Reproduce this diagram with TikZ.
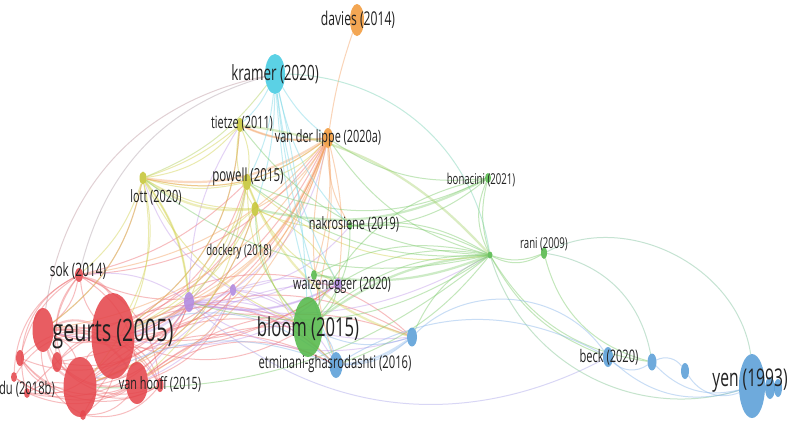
\documentclass[tikz,border=0pt]{standalone}
\usepackage{fontspec}
\setmainfont{Open Sans}[FakeStretch=0.64]
\usetikzlibrary{shapes.geometric}
\definecolor{cRed}{HTML}{E5474D}
\definecolor{cGreen}{HTML}{55B94B}
\definecolor{cBlue}{HTML}{5A9FD8}
\definecolor{cYellow}{HTML}{C6C636}
\definecolor{cPurple}{HTML}{B088E0}
\definecolor{cCyan}{HTML}{45CBE2}
\definecolor{cOrange}{HTML}{F29A3C}
\definecolor{eRed}{HTML}{EE6E72}
\definecolor{eGreen}{HTML}{7CCB6A}
\definecolor{eBlue}{HTML}{86B4EA}
\definecolor{eYellow}{HTML}{D2D24E}
\definecolor{ePurple}{HTML}{C29CEB}
\definecolor{eCyan}{HTML}{77D6E6}
\definecolor{eOrange}{HTML}{F4A060}
\definecolor{txt}{HTML}{222222}
\pgfdeclarelayer{bg}
\pgfdeclarelayer{edges}
\pgfsetlayers{bg,edges,main}
\begin{document}
\begin{tikzpicture}[x=1pt,y=-1pt,
  dot/.style n args={3}{ellipse,inner sep=0pt,outer sep=0pt,draw=none,fill=#1,fill opacity=0.88,minimum width=#2pt,minimum height=#3pt},
  lab/.style={text=txt,inner sep=0pt,font=\fontsize{#1}{#1}\selectfont},
  e/.style={draw=#1,line width=1pt,opacity=0.45},
  ew/.style={draw=#1,line width=2.2pt,opacity=0.38}]
\begin{pgfonlayer}{bg}
\fill[white] (0,0) rectangle (789,429);
\end{pgfonlayer}
\useasboundingbox (0,0) rectangle (789,429);
% ---------- nodes ----------
\node[dot={cOrange}{14}{32}] (dav) at (357,20) {};
\node[dot={cCyan}{20}{40}] (kra) at (275,74) {};
\node[dot={cYellow}{7}{14}] (tie) at (240,125) {};
\node[dot={cOrange}{10}{20}] (vdl) at (328,138) {};
\node[dot={cYellow}{8}{16}] (pow) at (247,182) {};
\node[dot={cYellow}{7}{14}] (pow2) at (255,209) {};
\node[dot={cYellow}{7}{13}] (lot) at (143,178) {};
\node[dot={cPurple}{10}{20}] (pur1) at (189,302) {};
\node[dot={cPurple}{6}{12}] (pur2) at (233,290) {};
\node[dot={cRed}{8}{14}] (sok) at (79,275) {};
\node[dot={cRed}{21}{44}] (rA) at (43,330) {};
\node[dot={cRed}{43}{86}] (geu) at (113,336) {};
\node[dot={cRed}{33}{60}] (rC) at (80,387) {};
\node[dot={cRed}{22}{42}] (rD) at (137,383) {};
\node[dot={cRed}{10}{20}] (rE) at (57,362) {};
\node[dot={cRed}{8}{16}] (rF) at (20,358) {};
\node[dot={cRed}{6}{10}] (rG) at (14,377) {};
\node[dot={cRed}{6}{10}] (du) at (27,393) {};
\node[dot={cRed}{6}{10}] (rI) at (83,415) {};
\node[dot={cRed}{7}{14}] (vho) at (160,385) {};
\node[dot={cGreen}{4}{8}] (nak) at (350,226) {};
\node[dot={cPurple}{8}{12}] (wai) at (338,284) {};
\node[dot={cGreen}{6}{10}] (gsm) at (314,275) {};
\node[dot={cGreen}{29}{60}] (blo) at (308,327) {};
\node[dot={cBlue}{13}{26}] (etm) at (336,365) {};
\node[dot={cBlue}{10}{19}] (bfz) at (412,337) {};
\node[dot={cGreen}{6}{10}] (bon) at (488,178) {};
\node[dot={cGreen}{5}{7}] (hub) at (490,255) {};
\node[dot={cGreen}{6}{12}] (ran) at (544,253) {};
\node[dot={cBlue}{10}{20}] (bec) at (608,357) {};
\node[dot={cBlue}{9}{17}] (bl2) at (652,362) {};
\node[dot={cBlue}{8}{16}] (bl3) at (685,371) {};
\node[dot={cBlue}{26}{64}] (yen) at (752,386) {};
\node[dot={cBlue}{10}{22}] (ye2) at (770,388) {};
\node[dot={cBlue}{8}{18}] (ye3) at (778,388) {};
% ---------- edges ----------
\begin{pgfonlayer}{edges}
\foreach \a/\b/\c in {geu/rA/20,rA/rC/25,rA/sok/-20,geu/sok/15,geu/rC/-20,geu/rD/25,rC/rD/-30,rE/geu/20,rF/geu/25,rF/rD/-35,rG/rD/-30,du/rD/-25,rI/geu/-20,vho/rA/-30,sok/rC/-35,rF/sok/20,du/geu/-30,rI/rA/30,rE/rD/-25,geu/vho/20,rC/vho/-25,rG/geu/30,sok/rD/25,rA/rD/-40,rE/sok/20,
  rF/rC/-30,rG/rC/-25,du/rC/20,rI/rD/-25,rI/vho/-30,rG/sok/30,du/sok/40,rF/vho/-40,rE/vho/-35,rA/vho/35,sok/vho/30,
  geu/pur1/-15,geu/pur2/-20,geu/blo/-25,geu/etm/35,rC/etm/30,rD/bfz/30,geu/wai/-20,sok/vdl/-25,geu/vdl/-20,rA/lot/-20,geu/pow/-20,rC/blo/25,sok/pow/-15,geu/tie/-25,du/blo/35,rA/pur1/-25,rD/blo/20,rC/pow2/-25,rA/wai/-25,rE/vdl/-30,
  geu/bfz/40,rC/bfz/38,rA/pur2/-30,rC/pur1/-30,rD/pur2/-25,rE/pur1/-35,rF/pur1/-40,rD/etm/30,sok/pur2/-20,rA/pow2/-30,du/pur1/-40,rI/blo/40}
  \draw[e=eRed] (\a) to[bend left=\c] (\b);
\foreach \a/\b/\c in {geu/rA/-25,geu/rC/25,rA/rC/-20,geu/rD/-20,rA/rD/30,geu/sok/-25}
  \draw[ew=eRed] (\a) to[bend left=\c] (\b);
\draw[e=eRed!60!eCyan] (rA) to[bend left=35] (kra);
\draw[e=eRed!50!eCyan] (sok) to[bend left=30] (kra);
\foreach \a/\b/\c in {pur1/pow/-15,pur1/wai/-20,pur1/blo/15,pur1/etm/20,pur1/bfz/-25,pur2/wai/15,pur2/vdl/-20,pur1/rA/25,pur1/rC/20,pur2/nak/-20,pur1/hub/-20,pur2/bfz/-20,wai/rD/-25,pur2/rD/20,pur1/tie/15,pur2/lot/20,pur1/sok/-20,wai/geu/25,pur2/blo/20,pur1/gsm/-15,pur2/etm/25}
  \draw[e=ePurple] (\a) to[bend left=\c] (\b);
\draw[ew=ePurple] (pur1) to[bend left=-10] (pur2);
\draw[ew=ePurple] (pur1) to[bend left=20] (geu);
\draw[ew=ePurple] (pur1) to[bend left=-20] (wai);
\draw[e=ePurple!60!eBlue] (pur1) to[bend right=35] (bec);
\foreach \a/\b/\c in {lot/pow/-15,lot/pow2/-15,lot/pur1/15,lot/geu/20,lot/blo/-20,lot/vdl/-25,pow/pur1/15,pow/blo/-20,pow/wai/-20,pow2/rC/25,pow2/etm/-20,tie/pow/15,tie/pow2/-20,tie/geu/25,lot/rA/20,pow/hub/-25,pow2/nak/-15,lot/tie/-20,pow/vdl/-20,pow2/pur1/-15,pow/rD/20,lot/rC/25,pow2/wai/20,tie/lot/10,lot/sok/15,pow/geu/25,pow2/geu/20}
  \draw[e=eYellow] (\a) to[bend left=\c] (\b);
\draw[e=eYellow!60!eGreen] (lot) to[bend left=-15] (kra);
\draw[ew=eYellow] (lot) to[bend left=-20] (pow2);
\draw[ew=eYellow] (pow) to[bend left=-25] (bfz);
\draw[ew=eYellow] (lot) to[bend left=15] (pur1);
\foreach \a/\b/\c in {vdl/dav/5,vdl/pur1/20,vdl/blo/10,vdl/rA/25,vdl/lot/25,vdl/wai/10,vdl/etm/-15,vdl/nak/-15,vdl/pow2/15,tie/vdl/-15,vdl/rC/25,vdl/sok/20,vdl/gsm/10,vdl/rD/20,vdl/pur2/15}
  \draw[e=eOrange] (\a) to[bend left=\c] (\b);
\draw[ew=eOrange] (vdl) to[bend left=20] (lot);
\draw[ew=eOrange] (vdl) to[bend left=25] (geu);
\draw[ew=eOrange] (tie) to[bend left=-15] (vdl);
\foreach \a/\b/\c in {kra/vdl/-10,kra/pow/10,kra/tie/10,kra/blo/5,kra/wai/-10,kra/nak/-15,kra/etm/-8,kra/pow2/8,kra/gsm/-5}
  \draw[e=eCyan] (\a) to[bend left=\c] (\b);
\draw[e=eCyan!60!eGreen] (kra) to[bend left=40] (hub);
\foreach \a/\b/\c in {hub/blo/-20,hub/gsm/-20,hub/nak/-15,hub/bon/15,hub/ran/-30,hub/bec/-20,hub/bl2/-25,hub/vdl/20,hub/pow/20,hub/pur1/25,hub/wai/-20,hub/etm/15,hub/bfz/-20,bon/vdl/20,bon/blo/-25,bon/pow/25,ran/bl2/-30,blo/gsm/-20,blo/wai/-20,blo/nak/-20,blo/pow2/20,bon/hub/-25,hub/rC/20,nak/hub/20,hub/tie/25,hub/lot/25,ran/hub/20,bon/nak/20,gsm/wai/20}
  \draw[e=eGreen] (\a) to[bend left=\c] (\b);
\draw[ew=eGreen] (hub) to[bend left=15] (gsm);
\draw[ew=eGreen] (hub) to[bend left=-15] (blo);
\draw[ew=eGreen] (bon) to[bend left=20] (pow2);
\draw[ew=eGreen!60!eYellow] (hub) to[bend left=-20] (tie);
\draw[e=eGreen!70!eBlue] (hub) to[bend right=45] (yen);
\draw[e=eGreen!60!eBlue] (ran) to[bend left=55] (yen);
\draw[e=eGreen!60!eBlue] (ran) to[bend left=35] (bl2);
\foreach \a/\b/\c in {etm/bfz/-20,etm/bec/30,bec/bl2/-40,bl2/bl3/40,bl3/yen/-40,etm/blo/-25,bfz/blo/20,bec/yen/-30,etm/geu/-30,etm/rC/-25,bl2/yen/-30}
  \draw[e=eBlue] (\a) to[bend left=\c] (\b);
\draw[e=eBlue] (bfz) to[bend left=50] (bec);
\draw[ew=eBlue] (etm) to[bend left=-15] (bfz);
\end{pgfonlayer}
% ---------- labels ----------
\node[lab=19] (Ldav) at (358,20) {davies (2014)};
\node[lab=21] (Lkra) at (275,74) {kramer (2020)};
\node[lab=17] (Ltie) at (242,124) {tietze (2011)};
\node[lab=17] (Lvdl) at (328,138) {van der lippe (2020a)};
\node[lab=18] (Lpow) at (248,177) {powell (2015)};
\node[lab=17] (Llot) at (156,197) {lott (2020)};
\node[lab=15] (Ldoc) at (239,252) {dockery (2018)};
\node[lab=18.5] (Lsok) at (78,271) {sok (2014)};
\node[lab=31] (Lgeu) at (113,334) {geurts (2005)};
\node[lab=17.5] (Ldu) at (27,389) {du (2018b)};
\node[lab=17] (Lvho) at (160,384) {van hooff (2015)};
\node[lab=17] (Lnak) at (354,224) {nakrosiene (2019)};
\node[lab=17] (Lwai) at (342,285) {waizenegger (2020)};
\node[lab=26] (Lblo) at (308,329) {bloom (2015)};
\node[lab=17.5] (Letm) at (335,364) {etminani-ghasrodashti (2016)};
\node[lab=15] (Lbon) at (481,180) {bonacini (2021)};
\node[lab=15] (Lran) at (544,244) {rani (2009)};
\node[lab=17.3] (Lbec) at (609,357) {beck (2020)};
\node[lab=24.4] (Lyen) at (750,381) {yen (1993)};
\end{tikzpicture}
\end{document}
